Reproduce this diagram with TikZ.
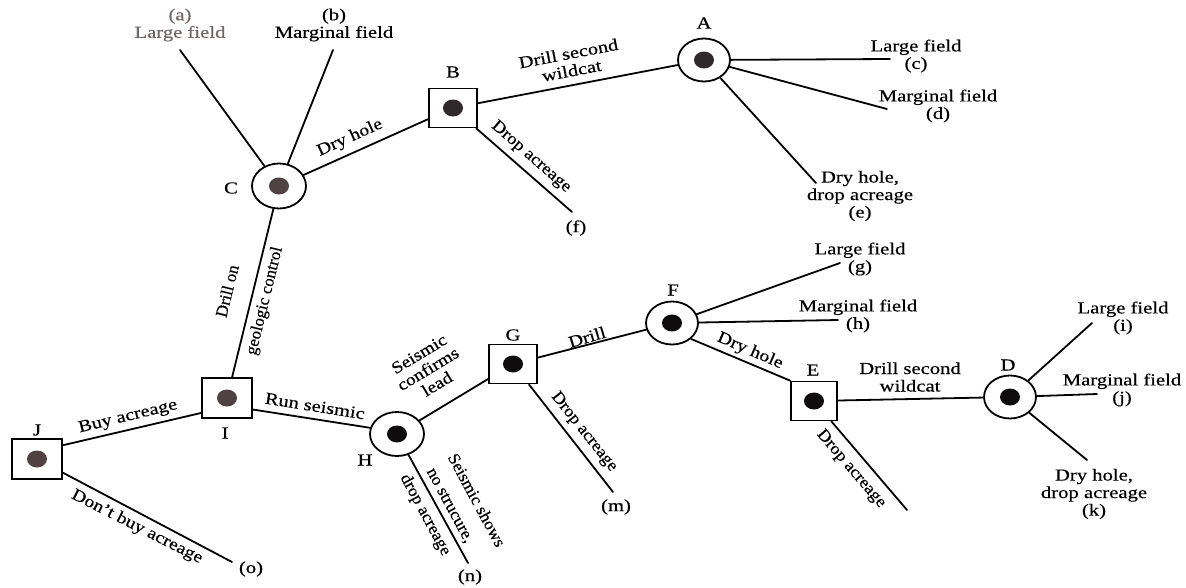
\documentclass[tikz,border=0pt]{standalone}
\usepackage{fontspec}
\setmainfont{Liberation Serif}[FakeBold=0.4]
\usetikzlibrary{shapes.geometric}
\definecolor{inkgray}{RGB}{112,102,102}
\definecolor{dotgray}{RGB}{80,66,66}
\definecolor{dotdark}{RGB}{48,40,42}
\definecolor{dotblack}{RGB}{14,12,12}
\newcommand{\labfont}{\fontsize{16.8pt}{17.5pt}\selectfont}
\tikzset{
  dot color/.store in=\dotcolor,
  dot color=dotblack,
  conn/.style={line width=1.8pt, line cap=round},
  innerdot/.style={path picture={\fill[\dotcolor] (path picture bounding box.center) ellipse [x radius=10pt, y radius=8.5pt];}},
  decision/.style={draw, rectangle, line width=1.8pt, fill=white, minimum width=48pt, minimum height=39pt, inner sep=0pt, innerdot},
  chance/.style={draw, ellipse, line width=1.8pt, fill=white, minimum width=52pt, minimum height=43pt, inner sep=0pt, innerdot},
  % upright text, widened like the rest of the lettering
  txt/.style={font=\labfont, xscale=1.23, inner sep=0pt, align=center},
  % text along a branch: widen first, then turn to the branch's angle
  rtxt/.style 2 args={font=\labfont, rotate=#1, xscale=#2, inner sep=0pt, align=center},
}
\begin{document}
\begin{tikzpicture}[x=1pt, y=-1pt]
\useasboundingbox[fill=white] (0,0) rectangle (1186,587);

% decision (square) and chance (circle) nodes
\node[chance, dot color=dotgray, minimum width=54pt, minimum height=45pt] (C) at (279,186) {};
\node[decision, dot color=dotdark] (B) at (453,108) {};
\node[chance, dot color=dotdark] (A) at (704,60) {};
\node[decision, dot color=dotgray, minimum width=50pt, minimum height=40pt] (I) at (227,398) {};
\node[decision, dot color=dotgray, minimum width=50pt, minimum height=40pt] (J) at (37,459) {};
\node[chance, minimum width=54pt, minimum height=44pt] (H) at (397,434) {};
\node[decision] (G) at (513,364) {};
\node[chance] (F) at (672,323) {};
\node[decision, minimum width=46pt] (E) at (814,401) {};
\node[chance] (D) at (1010,397) {};

% node letters
\node[txt] (lA) at (704,23) {A};
\node[txt] (lB) at (453,72) {B};
\node[txt] (lC) at (231,188) {C};
\node[txt] (lD) at (1008,365) {D};
\node[txt] (lE) at (813,370) {E};
\node[txt] (lF) at (673,290) {F};
\node[txt] (lG) at (513,335) {G};
\node[txt] (lH) at (365,460) {H};
\node[txt] (lI) at (225,433) {I};
\node[txt] (lJ) at (37,430) {J};

% free ends of the outcome branches
\coordinate (ea) at (180,50);
\coordinate (eb) at (333,50);
\coordinate (ec) at (890,59);
\coordinate (ed) at (887,109);
\coordinate (ee) at (816,183);
\coordinate (ef) at (572,212);
\coordinate (eg) at (840,263);
\coordinate (eh) at (838,320);
\coordinate (ei) at (1092,323);
\coordinate (ej) at (1097,394);
\coordinate (ek) at (1087,460);
\coordinate (em) at (613,492);
\coordinate (en) at (468,563);
\coordinate (eo) at (232,562);
\coordinate (ex) at (907,510);

% connectors
\draw[conn] (C) -- (ea);
\draw[conn] (C) -- (eb);
\draw[conn] (C) -- (B);
\draw[conn] (B) -- (A);
\draw[conn] (B) -- (ef);
\draw[conn] (A) -- (ec);
\draw[conn] (A) -- (ed);
\draw[conn] (A) -- (ee);
\draw[conn] (I) -- (C);
\draw[conn] (J.28) -- (I.210);
\draw[conn] (J) -- (eo);
\draw[conn] (I.-24) -- (H.167);
\draw[conn] (H) -- (G);
\draw[conn] (H) -- (en);
\draw[conn] (G) -- (F);
\draw[conn] (G) -- (em);
\draw[conn] (F) -- (eg);
\draw[conn] (F) -- (eh);
\draw[conn] (F.-40) -- (E.north west);
\draw[conn] (E) -- (D);
\draw[conn] (E) -- (ex);
\draw[conn] (D) -- (ei);
\draw[conn] (D) -- (ej);
\draw[conn] (D) -- (ek);

% branch labels
\node[rtxt={24.3}{1.18}] (tCB) at (350,138) {Dry hole};
\node[rtxt={10.8}{1.22}] (tBA) at (570,62) {Drill second\\wildcat};
\node[rtxt={-41.1}{1.11}] (tBf) at (531,157) {Drop acreage};
\node[rtxt={76.2}{1.01}] (tIC1) at (227,291) {Drill on};
\node[rtxt={76.2}{1.01}] (tIC2) at (265,301) {geologic control};
\node[rtxt={13.6}{1.21}] (tJI) at (128,417) {Buy acreage};
\node[rtxt={-26.9}{1.17}] (tJo) at (137,527) {Don't buy acreage};
\node[rtxt={-9.1}{1.22}] (tIH) at (315,406) {Run seismic};
\node[rtxt={31.1}{1.15}] (tHG) at (428,369) {Seismic\\confirms\\lead};
\node[rtxt={-61.7}{1.04}] (tHn1) at (477,500) {Seismic shows};
\node[rtxt={-61.7}{1.04}] (tHn2) at (449,506) {no strucure,};
\node[rtxt={-61.7}{1.04}] (tHn3) at (425,515) {drop acreage};
\node[rtxt={16.6}{1.2}] (tGF) at (587,337) {Drill};
\node[rtxt={-51.5}{1.07}] (tGm) at (584,432) {Drop acreage};
\node[rtxt={-23.4}{1.18}] (tFE) at (750,351) {Dry hole};
\node[txt] (tED) at (910,377) {Drill second\\wildcat};
\node[rtxt={-49.3}{1.08}] (tEx) at (851,469) {Drop acreage};

% outcome labels
\node[txt, text=inkgray] (la) at (180,25) {(a)\\Large field};
\node[txt] (lb) at (334,25) {(b)\\Marginal field};
\node[txt] (lc) at (916,56) {Large field\\(c)};
\node[txt] (ld) at (938,106) {Marginal field\\(d)};
\node[txt] (le) at (860,196) {Dry hole,\\drop acreage\\(e)};
\node[txt] (lf) at (576,228) {(f)};
\node[txt] (lg) at (860,259) {Large field\\(g)};
\node[txt] (lh) at (858,316) {Marginal field\\(h)};
\node[txt] (li) at (1123,318) {Large field\\(i)};
\node[txt] (lj) at (1122,390) {Marginal field\\(j)};
\node[txt] (lk) at (1094,494) {Dry hole,\\drop acreage\\(k)};
\node[txt] (lm) at (616,507) {(m)};
\node[txt] (ln) at (470,577) {(n)};
\node[txt] (lo) at (251,569) {(o)};
\end{tikzpicture}
\end{document}
